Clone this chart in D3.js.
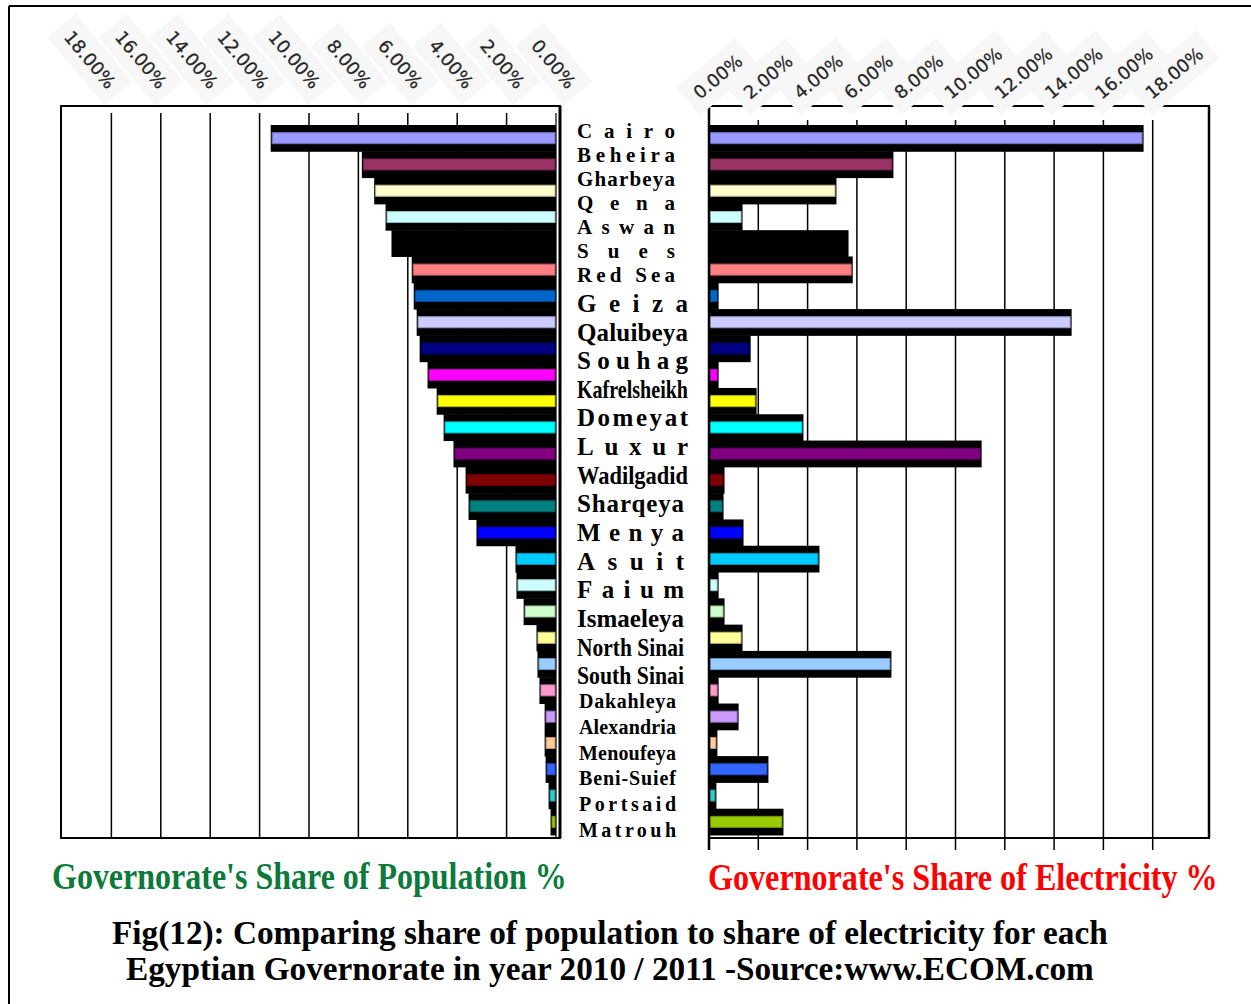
<!DOCTYPE html>
<html>
<head>
<meta charset="utf-8">
<script src="https://cdn.jsdelivr.net/npm/d3@7"></script>
<style>
  html, body { margin: 0; padding: 0; background: #fff; }
  svg { display: block; }
</style>
</head>
<body>
<svg id="chart" width="1251" height="1004"></svg>
<script>
// Egyptian governorates, in chart series order
const governorates = [
  "Cairo", "Beheira", "Gharbeya", "Qena", "Aswan", "Sues", "Red Sea",
  "Geiza", "Qaluibeya", "Souhag", "Kafrelsheikh", "Domeyat", "Luxur",
  "Wadilgadid", "Sharqeya", "Menya", "Asuit", "Faium", "Ismaeleya",
  "North Sinai", "South Sinai", "Dakahleya", "Alexandria", "Menoufeya",
  "Beni-Suief", "Portsaid", "Matrouh"
];

// Share of population (%) per series
const populationShare = [
  11.49, 7.80, 7.30, 6.84, 6.60, 5.78, 5.70, 5.58, 5.46, 5.14, 4.77, 4.49,
  4.09, 3.60, 3.48, 3.16, 1.58, 1.54, 1.25, 0.73, 0.69, 0.61, 0.40, 0.40,
  0.36, 0.24, 0.16
];

// Share of electricity (%) per series
const electricityShare = [
  17.57, 7.42, 5.11, 1.30, 5.60, 5.77, 0.33, 14.65, 1.63, 0.33, 1.87, 3.77,
  11.00, 0.57, 0.53, 1.34, 4.42, 0.33, 0.57, 1.30, 7.34, 0.33, 1.14, 0.28,
  2.35, 0.24, 2.96
];

// Axis tick values (%)
const tickValues = [0, 2, 4, 6, 8, 10, 12, 14, 16, 18];

// Series fill palette
const seriesColors = [
  "#9999FF", "#993366", "#FFFFCC", "#CCFFFF", "#000000", "#FF8080", "#0066CC",
  "#CCCCFF", "#000080", "#FF00FF", "#FFFF00", "#00FFFF", "#800080", "#800000",
  "#008080", "#0000FF", "#00CCFF", "#CCFFFF", "#CCFFCC", "#FFFF99", "#99CCFF",
  "#FF99CC", "#CC99FF", "#FFCC99", "#3366FF", "#33CCCC", "#99CC00"
];

const svg = d3.select("#chart");
const fmt = d3.format(".2%");
const serif = "'Liberation Serif', 'Times New Roman', serif";
const sans = "'DejaVu Sans', Verdana, sans-serif";

const rows = governorates.map((name, i) => ({
  name, i, pop: populationShare[i], elec: electricityShare[i], color: seriesColors[i]
}));

// ---- scales ----
const y = d3.scaleBand().domain(governorates).range([125, 835]).padding(0);
const xL = d3.scaleLinear().domain([0, 20]).range([556, 62]);
const xR = d3.scaleLinear().domain([0, 20]).range([709, 1202]);
// tick label anchor positions run slightly wider than the grid
const tickLabelL = d3.scaleLinear().domain([0, 18]).range([567, 107]);
const tickLabelR = d3.scaleLinear().domain([0, 18]).range([700, 1152]);

// ---- outer frame ----
svg.append("line").attr("x1", 9).attr("x2", 1251).attr("y1", 6).attr("y2", 6)
  .attr("stroke", "#000").attr("stroke-width", 2);
svg.append("line").attr("x1", 9).attr("x2", 9).attr("y1", 6).attr("y2", 1004)
  .attr("stroke", "#000").attr("stroke-width", 2);

// ---- left panel (population) ----
const gL = svg.append("g");
gL.selectAll("line.grid").data(tickValues.filter(v => v > 0)).join("line")
  .attr("class", "grid")
  .attr("x1", d => xL(d)).attr("x2", d => xL(d))
  .attr("y1", 113).attr("y2", 838)
  .attr("stroke", "#000").attr("stroke-width", 1.5);
gL.append("line").attr("x1", xL(0)).attr("x2", xL(0)).attr("y1", 113).attr("y2", 838)
  .attr("stroke", "#000").attr("stroke-width", 1.2);

const stripeH = y.bandwidth() * 0.42;

// black bodies
gL.selectAll("rect.body").data(rows).join("rect")
  .attr("class", "body")
  .attr("x", d => xL(d.pop) - 1.5)
  .attr("y", d => y(d.name))
  .attr("width", d => xL(0) - xL(d.pop) + 1.5)
  .attr("height", y.bandwidth() + 0.5)
  .attr("fill", "#000");
// coloured stripes
gL.selectAll("rect.stripe").data(rows).join("rect")
  .attr("class", "stripe")
  .attr("x", d => xL(d.pop))
  .attr("y", d => y(d.name) + (y.bandwidth() - stripeH) / 2)
  .attr("width", d => Math.max(0, xL(0) - xL(d.pop) - 1))
  .attr("height", stripeH)
  .attr("fill", d => d.color)
  .attr("stroke", d => d3.color(d.color).darker(0.9))
  .attr("stroke-width", 1);

// left box
gL.append("rect").attr("x", 61).attr("y", 106).attr("width", 499).attr("height", 732)
  .attr("fill", "none").attr("stroke", "#000").attr("stroke-width", 2);
gL.append("line").attr("x1", 560).attr("x2", 560).attr("y1", 106).attr("y2", 838)
  .attr("stroke", "#000").attr("stroke-width", 3);

// rotated tick labels with a faint backing plate
function tickLabels(g, posScale, yPos, angle, anchor) {
  const t = g.selectAll("g.tick").data(tickValues).join("g")
    .attr("class", "tick")
    .attr("transform", d => `translate(${posScale(d)},${yPos}) rotate(${angle})`);
  t.append("text")
    .attr("text-anchor", anchor)
    .attr("font-family", sans).attr("font-size", 18)
    .attr("fill", "#262626")
    .attr("stroke", "#262626").attr("stroke-width", 0.25)
    .text(d => fmt(d / 100));
  t.each(function () {
    const gg = d3.select(this);
    const b = gg.select("text").node().getBBox();
    gg.insert("rect", "text")
      .attr("x", b.x - 10).attr("y", b.y - 8)
      .attr("width", b.width + 20).attr("height", b.height + 16)
      .attr("fill", "#f7f7f7");
  });
}
tickLabels(gL, tickLabelL, 90, 50, "end");

// ---- right panel (electricity) ----
const gR = svg.append("g");
gR.selectAll("line.grid").data(tickValues.filter(v => v > 0)).join("line")
  .attr("class", "grid")
  .attr("x1", d => xR(d)).attr("x2", d => xR(d))
  .attr("y1", 120).attr("y2", 850)
  .attr("stroke", "#000").attr("stroke-width", 1.5);

gR.selectAll("rect.body").data(rows).join("rect")
  .attr("class", "body")
  .attr("x", xR(0))
  .attr("y", d => y(d.name))
  .attr("width", d => xR(d.elec) - xR(0) + 1.5)
  .attr("height", y.bandwidth() + 0.5)
  .attr("fill", "#000");
gR.selectAll("rect.stripe").data(rows).join("rect")
  .attr("class", "stripe")
  .attr("x", xR(0) + 1)
  .attr("y", d => y(d.name) + (y.bandwidth() - stripeH) / 2)
  .attr("width", d => Math.max(0, xR(d.elec) - xR(0) - 1))
  .attr("height", stripeH)
  .attr("fill", d => d.color)
  .attr("stroke", d => d3.color(d.color).darker(0.9))
  .attr("stroke-width", 1);

// right box
gR.append("line").attr("x1", 708).attr("x2", 1210).attr("y1", 106).attr("y2", 106)
  .attr("stroke", "#000").attr("stroke-width", 2);
gR.append("line").attr("x1", 1209).attr("x2", 1209).attr("y1", 106).attr("y2", 838)
  .attr("stroke", "#000").attr("stroke-width", 2.5);
gR.append("line").attr("x1", 708).attr("x2", 1210).attr("y1", 838).attr("y2", 838)
  .attr("stroke", "#000").attr("stroke-width", 2);
gR.append("line").attr("x1", xR(0)).attr("x2", xR(0)).attr("y1", 106).attr("y2", 850)
  .attr("stroke", "#000").attr("stroke-width", 2.5);

tickLabels(gR, tickLabelR, 100, -40, "start");

// ---- governorate name column ----
const labelY = d3.scaleLinear().domain([0, 6, 20, 26]).range([131, 275, 676, 830]);
function labelStyle(i) {
  if (i <= 6) return { size: 21, width: 98, x: 577 };
  if (i <= 13) return { size: 25, width: 111, x: 577 };
  if (i <= 20) return { size: 25, width: 107, x: 577 };
  return { size: 20, width: 97, x: 579 };
}
svg.append("g").selectAll("text").data(rows).join("text")
  .attr("font-family", serif).attr("font-weight", "bold")
  .attr("fill", "#000")
  .each(function (d) {
    const s = labelStyle(d.i);
    const t = d3.select(this)
      .attr("x", s.x)
      .attr("y", labelY(d.i) + s.size * 0.33)
      .attr("font-size", s.size)
      .text(d.name);
    const natural = this.getComputedTextLength();
    t.attr("textLength", s.width)
     .attr("lengthAdjust", natural < s.width ? "spacing" : "spacingAndGlyphs");
  });

// ---- titles: condensed serif, squeezed horizontally to a set width ----
function condensedText(str, x, yBase, size, width, color) {
  const g = svg.append("g");
  const t = g.append("text")
    .attr("font-family", serif).attr("font-weight", "bold").attr("font-size", size)
    .attr("fill", color)
    .text(str);
  const natural = t.node().getComputedTextLength();
  g.attr("transform", `translate(${x},${yBase}) scale(${width / natural},1)`);
}
condensedText("Governorate's Share of Population %", 52, 889, 37, 515, "#0B7A3B");
condensedText("Governorate's Share of Electricity %", 708, 890, 37, 510, "#FF0000");
condensedText("Fig(12): Comparing share of population to share of electricity for each",
  112, 944, 34, 996, "#000");
condensedText("Egyptian Governorate in year 2010 / 2011 -Source:www.ECOM.com",
  126, 980, 34, 968, "#000");
</script>
</body>
</html>
